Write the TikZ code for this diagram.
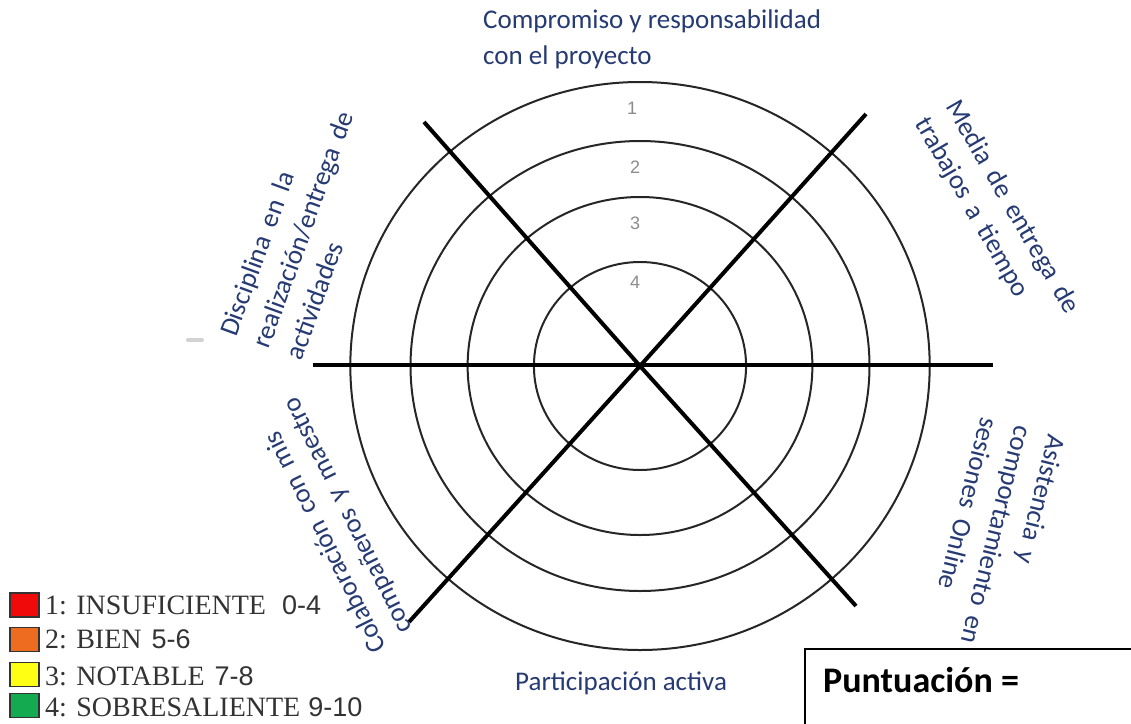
\documentclass[tikz,border=0pt]{standalone}
\usepackage{fontspec}
\setmainfont{Carlito}
\newfontfamily\legendfont{Liberation Serif}
\newfontfamily\rangefont{Liberation Sans}
\newfontfamily\ringfont{Liberation Sans}
\newcommand\rangetext[1]{{\rangefont\fontsize{27}{27}\selectfont #1}}
\definecolor{labelblue}{RGB}{38,58,115}
\definecolor{swred}{RGB}{240,10,10}
\definecolor{sworange}{RGB}{238,108,32}
\definecolor{swyellow}{RGB}{255,255,20}
\definecolor{swgreen}{RGB}{20,170,80}
\begin{document}
\begin{tikzpicture}[x=1pt,y=-1pt,
  ring/.style={draw=black!85, line width=2pt},
  axis/.style={draw=black, line width=4pt},
  crit/.style={text=labelblue, font=\fontsize{27}{35}\selectfont, inner sep=0pt, anchor=base west},
  wide/.style={font={\fontsize{27}{35}\selectfont\spaceskip=0.4em\relax}},
  ringnum/.style={text=black!45, font=\ringfont\fontsize{18}{18}\selectfont, inner sep=0pt},
  swatch/.style={draw=black!80, line width=1.3pt, minimum width=29pt, minimum height=24pt, inner sep=0pt},
  legend/.style={anchor=base west, inner sep=0pt, text=black!80, font=\legendfont\fontsize{28}{28}\selectfont}
]
\useasboundingbox (0,0) rectangle (1131,723);
\fill[white] (0,0) rectangle (1131,723);

% target rings
\coordinate (c) at (640,366);
\foreach \r in {284,225,169,104}
  \draw[ring] (c) ellipse [x radius={1.02*\r}, y radius=\r];

% axes: one horizontal and two diagonals through the centre (48 degrees)
\coordinate (hl) at (313,365);
\coordinate (hr) at (993,365);
\coordinate (d1a) at (424,122);
\coordinate (d1b) at (856,606);
\coordinate (d2a) at (866,114);
\coordinate (d2b) at (409,622);
\draw[axis] (hl) -- (hr);
\draw[axis] (d1a) -- (c) -- (d1b);
\draw[axis] (d2a) -- (c) -- (d2b);

% ring numbers
\node[ringnum] (n1) at (632,108) {1};
\node[ringnum] (n2) at (635,167) {2};
\node[ringnum] (n3) at (635,223) {3};
\node[ringnum] (n4) at (635,282) {4};

% criteria
\node[crit, font=\fontsize{27}{36}\selectfont] (top) at (483,28)
  {\vtop{\hbox{Compromiso y responsabilidad}\hbox{con el proyecto}}};
\node[crit, wide, rotate=-60] (media) at (945,106)
  {\vtop{\hbox{Media de entrega de}\hbox{trabajos a tiempo}}};
\node[crit, wide, rotate=70] (disc) at (236,338)
  {\vtop{\hbox{Disciplina en la}\hbox{realización/entrega de}\hbox{actividades}}};
\node[crit, wide, rotate=-104] (asis) at (1049,433)
  {\vtop{\hbox{Asistencia y}\hbox{comportamiento en}\hbox{sesiones Online}}};
\node[crit, wide, rotate=116.5] (colab) at (387,648)
  {\vtop{\baselineskip=32pt\hbox{Colaboración con mis}\hbox{\kern6pt compañeros y maestro}}};
\node[crit] (part) at (515,690) {Participación activa};

% small smudge on the left
\draw[gray!35, line width=4pt, line cap=round] (188,340) -- (202,340);

% legend
\node[swatch, fill=swred]    (sw1) at (24.5,605) {};
\node[swatch, fill=sworange] (sw2) at (24.5,639.5) {};
\node[swatch, fill=swyellow] (sw3) at (24.5,674.5) {};
\node[swatch, fill=swgreen]  (sw4) at (24.5,705.5) {};
\node[legend] (l1) at (45,614) {1: INSUFICIENTE\hspace{16pt}\rangetext{0-4}};
\node[legend] (l2) at (45,648) {2: BIEN\hspace{10pt}\rangetext{5-6}};
\node[legend] (l3) at (45,685) {3: NOTABLE\hspace{10pt}\rangetext{7-8}};
\node[legend] (l4) at (45,716) {4: SOBRESALIENTE\hspace{8pt}\rangetext{9-10}};

% score box
\draw[line width=1.3pt] (805,649) rectangle (1140,740);
\node[anchor=base west, inner sep=0pt, font=\bfseries\fontsize{36}{36}\selectfont] (score) at (823,692) {Puntuación =};
\end{tikzpicture}
\end{document}
